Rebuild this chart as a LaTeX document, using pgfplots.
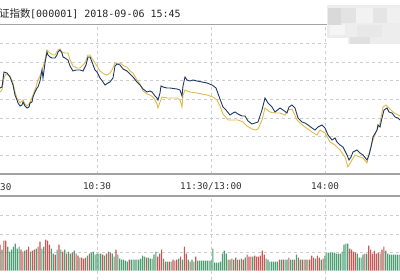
\documentclass[border=0pt]{standalone}
\usepackage{pgfplots}
\pgfplotsset{compat=1.18}
\usepackage{pgfplotstable}
\usepackage{fontspec}
\setmainfont{DejaVu Sans}
\newfontfamily\cjk{Noto Sans CJK SC}
\newfontfamily\mono{DejaVu Sans Mono}
\definecolor{pblue}{HTML}{1F3A68}
\definecolor{pyellow}{HTML}{E0BC4A}
\definecolor{vred}{HTML}{C85656}
\definecolor{vgreen}{HTML}{4A9E72}
\definecolor{gridc}{HTML}{CDCDCD}
\definecolor{framec}{HTML}{A3A3A3}

\pgfplotstableread{
x y
0 86
2 87
4 102
7 101
10 97
13 89
15 79
17 74
18 71
20 68
22 69
23 72
25 68
27 66
29 67
30 71
32 72
33 77
35 82
37 86
38 87
40 93
42 104
43 96
45 111
47 122
48 119
50 117
52 116
55 116
57 119
58 122
60 124
62 121
63 117
65 116
68 114
70 108
73 103
76 104
80 104
83 103
86 109
88 117
90 117
92 112
95 104
97 102
100 96
103 92
105 89
108 91
110 92
113 96
115 108
117 110
120 109
123 105
127 103
130 100
133 97
137 92
140 89
143 85
147 82
150 83
152 82
155 78
157 76
158 74
160 81
161 88
163 87
167 86
170 86
177 85
180 84
182 78
183 88
185 97
187 94
190 93
193 94
197 93
202 92
207 91
212 89
216 86
220 75
223 67
226 64
230 59
233 61
235 62
238 60
242 58
245 58
248 53
252 50
255 51
258 52
262 64
265 76
268 71
272 67
275 62
280 66
283 64
287 61
289 67
292 69
295 66
298 56
302 52
305 51
308 49
312 46
315 44
318 47
322 49
325 46
328 39
332 34
335 36
337 32
340 29
343 27
347 19
349 14
351 17
353 22
357 24
360 21
363 19
367 14
369 19
371 27
373 37
377 44
378 49
380 47
382 56
384 64
387 66
389 62
392 61
395 57
398 56
400 54
}\bluetab

\pgfplotstableread{
x y
0 82
2 84
4 96
6 100
10 98
13 91
15 82
17 76
20 71
23 74
25 70
27 68
29 70
31 74
33 79
36 87
38 94
40 98
42 104
43 107
45 114
47 124
50 121
53 119
55 119
58 124
60 125
62 122
65 121
68 121
70 114
73 108
77 106
80 106
83 109
85 111
88 119
90 119
93 114
97 108
100 103
104 100
107 99
110 101
112 104
115 111
118 110
120 111
124 108
127 107
130 103
133 101
137 94
140 90
143 83
147 80
150 79
153 77
155 74
157 70
158 66
160 72
162 77
167 76
172 76
177 76
180 74
182 67
183 79
185 84
190 82
197 81
202 80
207 79
213 77
217 74
220 68
223 60
228 54
233 54
238 54
243 52
247 48
252 45
255 44
258 45
262 54
265 66
270 62
275 61
280 61
285 59
288 64
292 65
297 54
300 51
305 47
312 42
317 39
320 44
325 41
330 32
335 29
340 24
345 17
348 7
352 14
355 19
360 17
363 16
367 11
370 24
373 34
377 44
380 51
383 67
386 69
389 66
393 62
398 59
400 58
}\yellowtab

\begin{document}
\begin{tikzpicture}[x=1bp,y=1bp]
\useasboundingbox (0,0) rectangle (400,280);
\fill[white] (0,0) rectangle (400,280);

% price panel
\begin{axis}[
  at={(0,106)}, anchor=south west, scale only axis,
  width=400bp, height=149bp,
  xmin=0, xmax=400, ymin=0, ymax=149,
  xtick={97,211,325}, xticklabels={10:30,11:30/13:00,14:00},
  ytick={18.625,37.25,55.875,74.5,93.125,111.75,130.375}, yticklabels={},
  xmajorgrids, ymajorgrids,
  major grid style={gridc, dash pattern=on 3bp off 3bp, line width=0.8bp},
  axis line style={draw=none}, tick style={draw=none},
  xticklabel style={font=\mono\fontsize{9.3bp}{10bp}\selectfont, text=black!80, anchor=base, yshift=-16bp},
]
\addplot[pyellow, line width=0.9bp] table[x=x,y=y]{\yellowtab};
\addplot[pblue, line width=0.9bp] table[x=x,y=y]{\bluetab};
\end{axis}

% volume panel
\begin{axis}[
  at={(0,0)}, anchor=south west, scale only axis,
  width=400bp, height=84bp,
  xmin=8.95, xmax=219.47, ymin=-9.3, ymax=74.7,
  xtick={60,120,180}, xticklabels={},
  ytick={18.4,36.8,55.2}, yticklabels={},
  xmajorgrids, ymajorgrids,
  major grid style={gridc, dash pattern=on 3bp off 3bp, line width=0.8bp},
  axis line style={draw=none}, tick style={draw=none},
  ybar, bar width=1.15bp, bar shift=0pt,
]
\addplot[fill=vred, draw=none, bar shift=0pt] coordinates {(9,26)(11,30)(12,30)(20,21)(21,19)(23,21)(24,24)(26,20)(27,21)(29,24)(30,29)(33,31)(34,30)(35,26)(38,16)(40,26)(42,19)(44,17)(47,18)(49,17)(50,15)(52,13)(53,12)(54,13)(56,17)(63,16)(65,17)(67,18)(70,21)(77,11)(86,13)(92,14)(93,17)(94,21)(96,9)(98,9)(100,11)(101,10)(102,11)(104,14)(106,24)(107,17)(109,9)(112,14)(129,11)(131,12)(133,13)(135,11)(137,11)(139,16)(140,14)(141,14)(143,15)(144,14)(145,14)(146,15)(147,20)(148,16)(156,11)(158,11)(161,13)(164,11)(166,13)(168,11)(170,11)(172,11)(173,15)(174,13)(176,15)(177,13)(179,12)(193,22)(194,21)(195,19)(196,18)(201,17)(203,25)(204,21)(205,17)(206,20)(207,17)(208,18)(210,21)(211,24)};
\addplot[fill=vgreen, draw=none, bar shift=0pt] coordinates {(10,21)(13,24)(14,19)(15,21)(16,24)(17,27)(18,22)(19,24)(22,20)(25,19)(28,22)(31,22)(32,24)(36,22)(37,17)(39,21)(41,21)(43,21)(45,19)(46,17)(48,20)(51,13)(55,15)(57,18)(58,19)(59,16)(60,17)(61,17)(62,17)(64,15)(66,19)(68,17)(69,14)(71,16)(72,12)(73,11)(74,11)(75,10)(76,9)(78,11)(79,11)(80,11)(81,11)(82,11)(83,12)(84,15)(85,14)(87,13)(88,12)(89,12)(90,16)(91,19)(95,12)(97,9)(99,9)(103,12)(105,11)(108,11)(110,11)(111,9)(113,10)(114,10)(115,10)(116,10)(117,10)(118,10)(119,10)(120,10)(121,22)(122,8)(123,8)(124,8)(125,9)(126,17)(127,20)(128,17)(130,11)(132,11)(134,11)(136,12)(138,13)(142,14)(149,12)(150,11)(151,9)(152,9)(153,9)(154,9)(155,9)(157,11)(159,11)(160,11)(162,11)(163,11)(165,16)(167,11)(169,11)(171,11)(175,12)(178,11)(180,15)(181,18)(182,18)(183,18)(184,18)(185,18)(186,17)(187,17)(188,17)(189,19)(190,26)(191,27)(192,27)(197,17)(198,13)(199,13)(200,16)(202,17)(209,17)(212,20)(213,17)(214,16)(215,16)(216,16)(217,16)(218,16)(219,16)};
\end{axis}

% frame lines
\draw[framec, line width=1.6bp] (0,255.5) -- (400,255.5);
\draw[framec, line width=1.6bp] (0,106) -- (400,106);
\draw[framec, line width=1.6bp] (0,84) -- (400,84);

% left (cut) tick label: only "30" is visible in the reference
\node[anchor=base west, inner sep=0, font=\mono\fontsize{9.3bp}{10bp}\selectfont, text=black!80] at (0,90) {30};

% title (left part cut off in the reference)
\node[anchor=base west, inner sep=0, text=black!85] at (-1,263) {{\cjk\fontsize{10.5bp}{12bp}\selectfont 证指数}};
\node[anchor=base west, inner sep=0, text=black!85] at (30,263) {\mono\fontsize{10bp}{12bp}\selectfont [000001] 2018-09-06 15:45};

% blurred mosaic patch (top right)
\fill[gray!14] (327,236) rectangle (400,275);
\fill[gray!30] (328,255) rectangle (341,272);
\fill[gray!22] (341,257) rectangle (356,272);
\fill[gray!10] (356,257) rectangle (373,272);
\fill[gray!20] (373,257) rectangle (387,272);
\fill[gray!12] (387,257) rectangle (400,272);
\fill[gray!8] (330,245) rectangle (345,255);
\fill[gray!18] (357,243) rectangle (382,255);
\fill[gray!24] (350,236) rectangle (370,243);
\fill[white] (327,232) rectangle (348,242);
\end{tikzpicture}
\end{document}
